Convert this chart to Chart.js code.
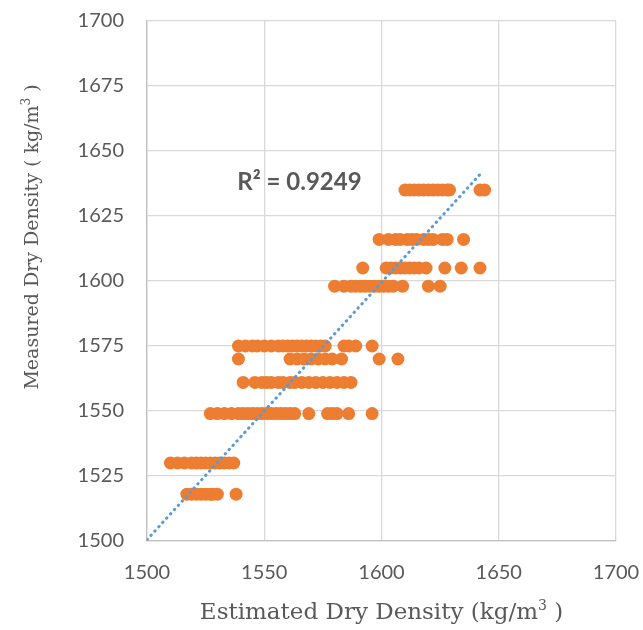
<!DOCTYPE html>
<html>
<head>
<meta charset="utf-8">
<script src="https://cdn.jsdelivr.net/npm/chart.js@4.4.1/dist/chart.umd.min.js"></script>
<style>
  html, body { margin: 0; padding: 0; background: #fff; }
  #wrap { width: 643px; height: 630px; position: relative; }
</style>
</head>
<body>
<div id="wrap"><canvas id="chart" width="643" height="630"></canvas></div>
<script>
// measured dry density levels and the estimated values read for each
const est1635 = [1610, 1612, 1614, 1616, 1618, 1620, 1622, 1624, 1626, 1628, 1629, 1642, 1644];
const est1616 = [1599, 1603, 1606, 1608, 1611, 1613, 1615, 1618, 1620, 1622, 1626, 1628, 1635];
const est1605 = [1592, 1602, 1604, 1606, 1608, 1610, 1612, 1614, 1616, 1619, 1627, 1634, 1642];
const est1598 = [1580, 1584, 1587, 1589, 1591, 1593, 1595, 1597, 1599, 1601, 1603, 1605, 1609, 1620, 1625];
const est1575 = [1539, 1542, 1545, 1547, 1550, 1553, 1556, 1558, 1560, 1562, 1564, 1566, 1568, 1570, 1572, 1574, 1576, 1584, 1586, 1589, 1596];
const est1570 = [1539, 1561, 1564, 1567, 1570, 1573, 1576, 1579, 1583, 1599, 1607];
const est1561 = [1541, 1546, 1549, 1551, 1553, 1556, 1558, 1561, 1563, 1566, 1569, 1572, 1575, 1578, 1581, 1584, 1587];
const est1549 = [1527, 1530, 1533, 1536, 1539, 1541, 1543, 1545, 1547, 1549, 1551, 1553, 1555, 1557, 1559, 1561, 1563, 1569, 1577, 1579, 1581, 1586, 1596];
const est1530 = [1510, 1513, 1516, 1519, 1521, 1523, 1525, 1527, 1529, 1531, 1533, 1535, 1537];
const est1518 = [1517, 1519, 1521, 1523, 1525, 1527, 1528, 1530, 1538];

const measuredLevels = [1635, 1616, 1605, 1598, 1575, 1570, 1561, 1549, 1530, 1518];
const estimatedRows = [est1635, est1616, est1605, est1598, est1575, est1570, est1561, est1549, est1530, est1518];

// linear trendline ends
const trendX = [1500, 1643];
const trendY = [1500.5, 1642];

const xTicks = [1500, 1550, 1600, 1650, 1700];
const yTicks = [1500, 1525, 1550, 1575, 1600, 1625, 1650, 1675, 1700];
const r2Label = 'R² = 0.9249';

const points = [];
measuredLevels.forEach((m, i) => {
  estimatedRows[i].forEach(e => points.push({ x: e, y: m }));
});

const grey = '#595959';
const gridCol = '#d9d9d9';

// axis titles with a real superscript, plus the R² label
const textPlugin = {
  id: 'texts',
  afterDraw(chart) {
    const { ctx, chartArea, scales } = chart;
    ctx.save();
    ctx.fillStyle = grey;

    function drawSup(parts, cx, cy, size) {
      // parts: [text, isSup]
      const big = size + 'px "DejaVu Serif"';
      const small = Math.round(size * 0.62) + 'px "DejaVu Serif"';
      let w = 0;
      parts.forEach(p => {
        ctx.font = p[1] ? small : big;
        w += ctx.measureText(p[0]).width;
      });
      let x = cx - w / 2;
      ctx.textBaseline = 'alphabetic';
      ctx.textAlign = 'left';
      parts.forEach(p => {
        ctx.font = p[1] ? small : big;
        ctx.fillText(p[0], x, cy + (p[1] ? -size * 0.4 : 0));
        x += ctx.measureText(p[0]).width;
      });
    }

    const midX = (chartArea.left + chartArea.right) / 2;
    drawSup([['Estimated Dry Density (kg/m', false], ['3', true], [' )', false]], midX, 619, 23);

    ctx.save();
    ctx.translate(38, 237);
    ctx.rotate(-Math.PI / 2);
    drawSup([['Measured Dry Density ( kg/m', false], ['3', true], [' )', false]], 0, 0, 19);
    ctx.restore();

    ctx.font = 'bold 24px Lato';
    ctx.textAlign = 'left';
    ctx.textBaseline = 'middle';
    ctx.fillText(r2Label, scales.x.getPixelForValue(1538.5), scales.y.getPixelForValue(1638));
    ctx.restore();
  }
};

new Chart(document.getElementById('chart'), {
  type: 'scatter',
  data: {
    datasets: [
      {
        type: 'line',
        label: 'Trend',
        data: trendX.map((x, i) => ({ x, y: trendY[i] })),
        borderColor: '#5b9bd5',
        borderWidth: 3,
        borderDash: [0.5, 5.3],
        borderCapStyle: 'round',
        pointRadius: 0,
        fill: false,
        order: 0
      },
      {
        label: 'Measured',
        data: points,
        backgroundColor: '#ed7d31',
        borderWidth: 0,
        pointRadius: 6.5,
        order: 1
      }
    ]
  },
  options: {
    responsive: false,
    animation: false,
    layout: { padding: { top: 21, right: 27, left: 0, bottom: 0 } },
    plugins: { legend: { display: false }, tooltip: { enabled: false } },
    scales: {
      x: {
        type: 'linear',
        min: 1500, max: 1700,
        afterBuildTicks: s => { s.ticks = xTicks.map(v => ({ value: v })); },
        afterFit: s => { s.height = 89; s.paddingLeft = 0; s.paddingRight = 0; },
        grid: { color: gridCol, lineWidth: 1.3, drawTicks: false },
        border: { color: '#bfbfbf', width: 1.3 },
        ticks: { color: grey, font: { family: 'Lato', size: 20 }, padding: 20, callback: v => String(v) }
      },
      y: {
        type: 'linear',
        min: 1500, max: 1700,
        afterBuildTicks: s => { s.ticks = yTicks.map(v => ({ value: v })); },
        afterFit: s => { s.width = 147; s.paddingTop = 0; s.paddingBottom = 0; },
        grid: { color: gridCol, lineWidth: 1.3, drawTicks: false },
        border: { color: '#bfbfbf', width: 1.3 },
        ticks: { color: grey, font: { family: 'Lato', size: 20 }, padding: 23, callback: v => String(v) }
      }
    }
  },
  plugins: [textPlugin]
});
</script>
</body>
</html>
